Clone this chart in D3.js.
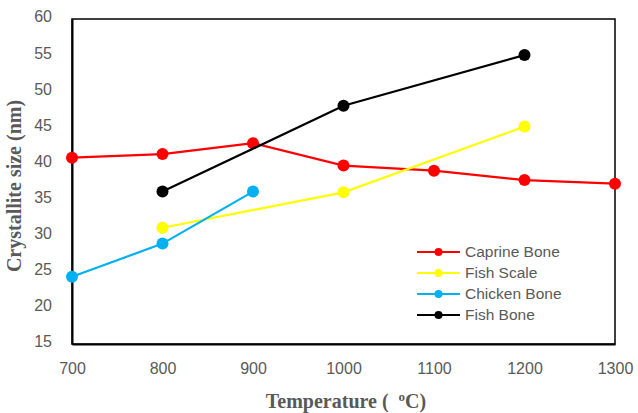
<!DOCTYPE html>
<html>
<head>
<meta charset="utf-8">
<script src="https://cdn.jsdelivr.net/npm/d3@7"></script>
<style>
  body { margin: 0; background: #fff; }
  svg { display: block; }
</style>
</head>
<body>
<div id="chart"></div>
<script>
// data
var seriesNames = ["Caprine Bone", "Fish Scale", "Chicken Bone", "Fish Bone"];
var seriesColors = ["#FF0000", "#FFFF00", "#00B0F0", "#000000"];
var caprineTemp = [700, 800, 900, 1000, 1100, 1200, 1300];
var caprineSize = [40.8, 41.3, 42.8, 39.7, 39.0, 37.7, 37.2];
var scaleTemp = [800, 1000, 1200];
var scaleSize = [31.1, 36.0, 45.1];
var chickenTemp = [700, 800, 900];
var chickenSize = [24.3, 28.9, 36.1];
var fishTemp = [800, 1000, 1200];
var fishSize = [36.1, 48.0, 55.0];
var xTicks = [700, 800, 900, 1000, 1100, 1200, 1300];
var yTicks = [15, 20, 25, 30, 35, 40, 45, 50, 55, 60];

var series = [
    { temps: caprineTemp, sizes: caprineSize },
    { temps: scaleTemp, sizes: scaleSize },
    { temps: chickenTemp, sizes: chickenSize },
    { temps: fishTemp, sizes: fishSize }
];

var W = 638, H = 413;
var margin = { top: 19, right: 23, bottom: 69, left: 72 },
    width = W - margin.left - margin.right,
    height = H - margin.top - margin.bottom;

var svg = d3.select("#chart").append("svg")
    .attr("width", W)
    .attr("height", H);

var g = svg.append("g")
    .attr("transform", "translate(" + margin.left + "," + margin.top + ")");

var x = d3.scaleLinear().domain([700, 1300]).range([0, width]);
var y = d3.scaleLinear().domain([15, 60]).range([height, 0]);

// plot frame
g.append("rect")
    .attr("x", 0).attr("y", 0)
    .attr("width", width).attr("height", height)
    .attr("fill", "none")
    .attr("stroke", "#000")
    .attr("stroke-width", 1.5);

// axes
var xAxis = g.append("g")
    .attr("transform", "translate(0," + height + ")")
    .call(d3.axisBottom(x).tickValues(xTicks).tickSize(0).tickPadding(19).tickFormat(d3.format("d")));
var yAxis = g.append("g")
    .call(d3.axisLeft(y).tickValues(yTicks).tickSize(0).tickPadding(20));

[xAxis, yAxis].forEach(function(a) {
    a.select(".domain").attr("stroke", "#000").attr("stroke-width", 2);
    a.selectAll("text")
        .attr("fill", "#595959")
        .attr("font-family", "Liberation Sans, Arial, sans-serif")
        .attr("font-size", "16px");
});
yAxis.selectAll("text").attr("dy", "0.18em");

// series lines + markers
var line = d3.line()
    .x(function(d) { return x(d[0]); })
    .y(function(d) { return y(d[1]); });

series.forEach(function(s, i) {
    var pts = s.temps.map(function(t, j) { return [t, s.sizes[j]]; });
    g.append("path")
        .datum(pts)
        .attr("fill", "none")
        .attr("stroke", seriesColors[i])
        .attr("stroke-width", 2.2)
        .attr("d", line);
    g.selectAll(".pt" + i)
        .data(pts)
        .enter().append("circle")
        .attr("cx", function(d) { return x(d[0]); })
        .attr("cy", function(d) { return y(d[1]); })
        .attr("r", 6)
        .attr("fill", seriesColors[i]);
});

// axis titles
svg.append("text")
    .attr("transform", "translate(21,186) rotate(-90)")
    .attr("text-anchor", "middle")
    .attr("fill", "#595959")
    .attr("font-family", "Liberation Serif, Times New Roman, serif")
    .attr("font-weight", "bold")
    .attr("font-size", "20px")
    .text("Crystallite size (nm)");

var xt = svg.append("text")
    .attr("x", 346)
    .attr("y", 408)
    .attr("text-anchor", "middle")
    .attr("fill", "#595959")
    .attr("font-family", "Liberation Serif, Times New Roman, serif")
    .attr("font-weight", "bold")
    .attr("font-size", "20px");
xt.append("tspan").text("Temperature (\u00a0\u00a0");
xt.append("tspan").attr("dy", -7).attr("font-size", "13px").text("o");
xt.append("tspan").attr("dy", 7).text("C)");

// legend
var legend = svg.append("g").attr("transform", "translate(417,252)");
seriesNames.forEach(function(name, i) {
    var row = legend.append("g").attr("transform", "translate(0," + (i * 21) + ")");
    row.append("line")
        .attr("x1", 0).attr("x2", 43)
        .attr("stroke", seriesColors[i])
        .attr("stroke-width", 2.2);
    row.append("circle")
        .attr("cx", 21.5).attr("r", 4)
        .attr("fill", seriesColors[i]);
    row.append("text")
        .attr("x", 48).attr("dy", "0.35em")
        .attr("fill", "#595959")
        .attr("font-family", "Liberation Sans, Arial, sans-serif")
        .attr("font-size", "15.5px")
        .text(name);
});
</script>
</body>
</html>
